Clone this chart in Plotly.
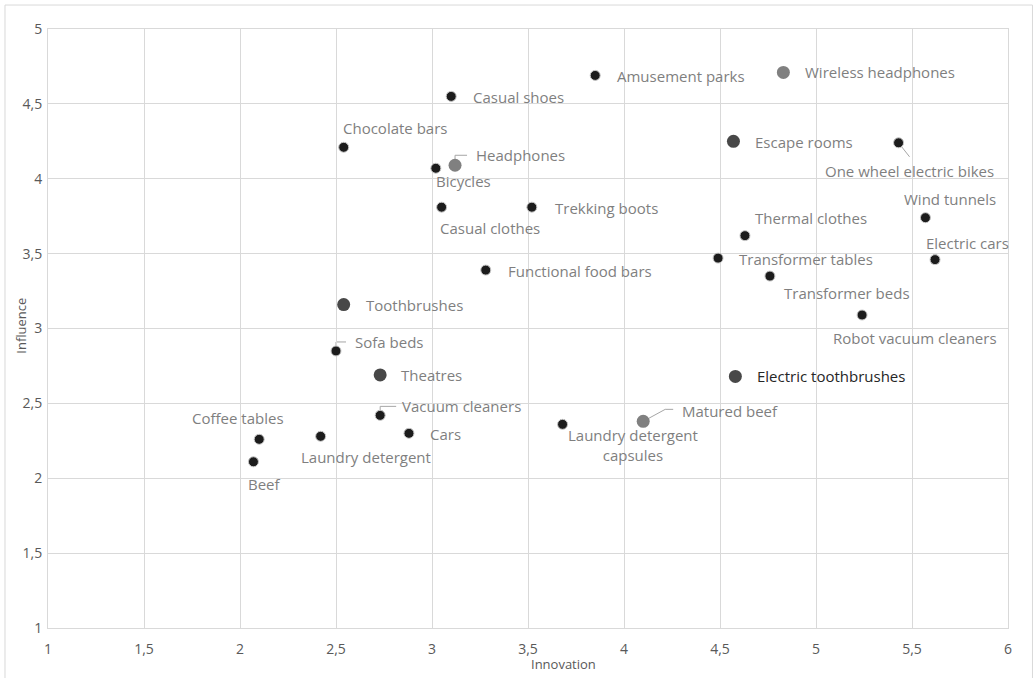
import plotly.graph_objects as go

# Products positioned by innovation (x) and influence (y)
products = [
    "Amusement parks", "Wireless headphones", "Casual shoes", "Chocolate bars",
    "Bicycles", "Headphones", "Escape rooms", "One wheel electric bikes",
    "Casual clothes", "Trekking boots", "Wind tunnels", "Thermal clothes",
    "Transformer tables", "Electric cars", "Functional food bars", "Transformer beds",
    "Toothbrushes", "Robot vacuum cleaners", "Sofa beds", "Theatres",
    "Electric toothbrushes", "Vacuum cleaners", "Matured beef",
    "Laundry detergent<br>capsules", "Cars", "Coffee tables", "Laundry detergent", "Beef",
]
innovation = [
    3.85, 4.83, 3.10, 2.54,
    3.02, 3.12, 4.57, 5.43,
    3.05, 3.52, 5.57, 4.63,
    4.49, 5.62, 3.28, 4.76,
    2.54, 5.24, 2.50, 2.73,
    4.58, 2.73, 4.10,
    3.68, 2.88, 2.10, 2.42, 2.07,
]
influence = [
    4.69, 4.71, 4.55, 4.21,
    4.07, 4.09, 4.25, 4.24,
    3.81, 3.81, 3.74, 3.62,
    3.47, 3.46, 3.39, 3.35,
    3.16, 3.09, 2.85, 2.69,
    2.68, 2.42, 2.38,
    2.36, 2.30, 2.26, 2.28, 2.11,
]
segment = [
    "A", "C", "A", "A",
    "A", "C", "B", "A",
    "A", "A", "A", "A",
    "A", "A", "A", "A",
    "B", "A", "A", "B",
    "B", "A", "C",
    "A", "A", "A", "A", "A",
]

x_ticks = [1, 1.5, 2, 2.5, 3, 3.5, 4, 4.5, 5, 5.5, 6]
y_ticks = [1, 1.5, 2, 2.5, 3, 3.5, 4, 4.5, 5]

# Marker look per segment
seg_style = {
    "A": dict(color="#1c1c1c", size=10),
    "B": dict(color="#484848", size=13),
    "C": dict(color="#808080", size=13),
}

# Data label placement: (anchor, dx px, dy px down)
label_place = {
    "Amusement parks": ("left", 20, 1),
    "Wireless headphones": ("left", 20, 0),
    "Casual shoes": ("left", 20, 1),
    "Chocolate bars": ("left", -3, -19),
    "Bicycles": ("left", -2, 13),
    "Headphones": ("left", 19, -10),
    "Escape rooms": ("left", 20, 1),
    "One wheel electric bikes": ("center", 11, 28),
    "Casual clothes": ("left", -4, 21),
    "Trekking boots": ("left", 21, 1),
    "Wind tunnels": ("center", 25, -19),
    "Thermal clothes": ("left", 8, -18),
    "Transformer tables": ("left", 19, 1),
    "Electric cars": ("center", 32, -17),
    "Functional food bars": ("left", 20, 1),
    "Transformer beds": ("left", 12, 17),
    "Toothbrushes": ("left", 20, 0),
    "Robot vacuum cleaners": ("center", 53, 23),
    "Sofa beds": ("left", 17, -9),
    "Theatres": ("left", 19, 0),
    "Electric toothbrushes": ("left", 20, 0),
    "Vacuum cleaners": ("left", 20, -9),
    "Matured beef": ("left", 37, -10),
    "Laundry detergent<br>capsules": ("center", 70, 21),
    "Cars": ("left", 19, 1),
    "Coffee tables": ("center", -21, -21),
    "Laundry detergent": ("center", 45, 21),
    "Beef": ("center", 11, 22),
}

# Leader lines (pixel paths from the point, y up)
leaders = {
    "Headphones": "M0,0 V10 H12",
    "Sofa beds": "M0,0 V9 H10",
    "Vacuum cleaners": "M0,0 V9 H16",
    "Matured beef": "M0,0 L22,12 H30",
    "One wheel electric bikes": "M0,0 L11,-14",
}

FONT = "Open Sans, Noto Sans, sans-serif"
GRID = "#d9d9d9"
TEXT = "#7f7f7f"

fig = go.Figure()

for seg in ["A", "B", "C"]:
    idx = [i for i, s in enumerate(segment) if s == seg]
    st = seg_style[seg]
    fig.add_trace(go.Scatter(
        x=[innovation[i] for i in idx],
        y=[influence[i] for i in idx],
        mode="markers",
        marker=dict(color=st["color"], size=st["size"],
                    line=dict(color="#c8c8c8", width=1 if seg == "A" else 0)),
        hovertext=[products[i] for i in idx],
        showlegend=False,
    ))

annotations = []
shapes = []
for name, xv, yv in zip(products, innovation, influence):
    anchor, dx, dy = label_place[name]
    annotations.append(dict(
        x=xv, y=yv, xref="x", yref="y", text=name, showarrow=False,
        xanchor=anchor, yanchor="middle", xshift=dx, yshift=-dy,
        font=dict(family=FONT, size=15,
                  color="#262626" if name == "Electric toothbrushes" else TEXT),
    ))
    if name in leaders:
        shapes.append(dict(
            type="path", xref="x", yref="y", xsizemode="pixel", ysizemode="pixel",
            xanchor=xv, yanchor=yv, path=leaders[name],
            line=dict(color="#a6a6a6", width=1), layer="below",
        ))

# Axis titles
annotations.append(dict(
    x=0.537, y=-0.06, xref="paper", yref="paper", text="Innovation",
    showarrow=False, xanchor="center", yanchor="middle",
    font=dict(family=FONT, size=13, color="#595959"),
))
annotations.append(dict(
    x=-0.029, y=0.505, xref="paper", yref="paper", text="Influence",
    showarrow=False, textangle=-90, xanchor="center", yanchor="middle",
    font=dict(family=FONT, size=13, color="#595959"),
))

# Chart frame
shapes.append(dict(
    type="rect", xref="paper", yref="paper",
    x0=-0.0448, x1=1.0255, y0=-0.12, y1=1.04,
    line=dict(color="#d9d9d9", width=1), fillcolor="rgba(0,0,0,0)",
))

fig.update_layout(
    width=1036, height=678,
    margin=dict(l=48, r=28, t=29, b=50),
    paper_bgcolor="white", plot_bgcolor="white",
    separators=", ",
    font=dict(family=FONT, size=14, color="#595959"),
    annotations=annotations,
    shapes=shapes,
    xaxis=dict(
        range=[1, 6], tickvals=x_ticks, showgrid=True, gridcolor=GRID,
        showline=True, linecolor=GRID, mirror=True, zeroline=False,
        ticks="outside", ticklen=8, tickcolor="rgba(0,0,0,0)",
    ),
    yaxis=dict(
        range=[1, 5], tickvals=y_ticks, showgrid=True, gridcolor=GRID,
        showline=True, linecolor=GRID, mirror=True, zeroline=False,
        ticks="outside", ticklen=2, tickcolor="rgba(0,0,0,0)",
    ),
)

fig.write_html("out.html")
